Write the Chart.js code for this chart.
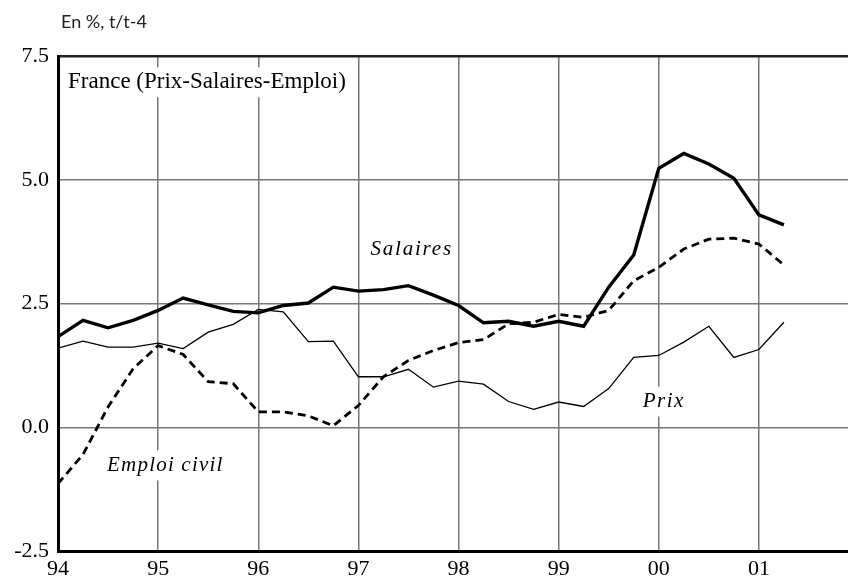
<!DOCTYPE html>
<html>
<head>
<meta charset="utf-8">
<script src="https://cdn.jsdelivr.net/npm/chart.js@4"></script>
<style>
  html, body { margin: 0; padding: 0; background: #fff; }
  #wrap { width: 848px; height: 578px; }
</style>
</head>
<body>
<div id="wrap"><canvas id="chart" width="848" height="578"></canvas></div>
<script>
// Quarterly data, 94T1 .. 01T2 (en %, glissement annuel)
const yearLabels = ['94', '95', '96', '97', '98', '99', '00', '01'];
const salaires = [1.83, 2.16, 2.01, 2.16, 2.36, 2.61, 2.47, 2.34, 2.31, 2.46, 2.51, 2.83, 2.75, 2.78, 2.86, 2.67,
                  2.46, 2.11, 2.14, 2.04, 2.14, 2.04, 2.83, 3.48, 5.23, 5.53, 5.32, 5.03, 4.29, 4.09];
const prix = [1.60, 1.74, 1.62, 1.62, 1.70, 1.59, 1.92, 2.08, 2.38, 2.33, 1.73, 1.74, 1.02, 1.02, 1.17, 0.81,
              0.93, 0.87, 0.52, 0.36, 0.51, 0.42, 0.78, 1.41, 1.45, 1.72, 2.04, 1.41, 1.57, 2.12];
const emploi = [-1.14, -0.55, 0.41, 1.18, 1.65, 1.47, 0.92, 0.88, 0.31, 0.31, 0.23, 0.03, 0.44, 1.02, 1.35, 1.55,
                1.71, 1.77, 2.09, 2.12, 2.28, 2.22, 2.36, 2.96, 3.23, 3.60, 3.80, 3.82, 3.70, 3.28];
const yTicks = [-2.5, 0.0, 2.5, 5.0, 7.5];

const serif = '"Liberation Serif", "Times New Roman", serif';

// turn a series into {x, y} points, x in years since 94
function toPoints(values) {
    return values.map((v, i) => ({ x: i / 4, y: v }));
}

// texts written inside the plot, anchored in data units
const plotTexts = [
    { text: 'France (Prix-Salaires-Emploi)', x: 0.1, y: 6.97, italic: false, size: 23, spacing: 0 },
    { text: 'Salaires', x: 3.12, y: 3.6, italic: true, size: 21, spacing: 1.8 },
    { text: 'Emploi civil', x: 0.49, y: -0.77, italic: true, size: 21, spacing: 1.2 },
    { text: 'Prix', x: 5.84, y: 0.52, italic: true, size: 21, spacing: 1.5 }
];

const textPlugin = {
    id: 'plotTexts',
    beforeDatasetsDraw(chart) {
        const ctx = chart.ctx;
        const xs = chart.scales.x, ys = chart.scales.y;
        ctx.save();
        ctx.textBaseline = 'middle';
        ctx.textAlign = 'left';
        plotTexts.forEach(t => {
            ctx.font = (t.italic ? 'italic ' : '') + t.size + 'px ' + serif;
            ctx.letterSpacing = t.spacing + 'px';
            const px = xs.getPixelForValue(t.x);
            const py = ys.getPixelForValue(t.y);
            const w = ctx.measureText(t.text).width;
            ctx.fillStyle = '#fff';
            ctx.fillRect(px - 3, py - 15, w + 6, 30);
            ctx.fillStyle = '#000';
            ctx.fillText(t.text, px, py);
        });
        ctx.restore();
    },
    afterDraw(chart) {
        const ctx = chart.ctx;
        ctx.save();
        ctx.font = '18px Lato, "Open Sans", sans-serif';
        ctx.fillStyle = '#222';
        ctx.textBaseline = 'middle';
        ctx.fillText('En %, t/t-4', chart.chartArea.left + 3, 22);
        ctx.restore();
    }
};

const ctx = document.getElementById('chart').getContext('2d');
const chart = new Chart(ctx, {
    type: 'line',
    data: {
        datasets: [
            {
                label: 'Salaires',
                data: toPoints(salaires),
                borderColor: '#000',
                borderWidth: 3.4,
                pointRadius: 0,
                tension: 0
            },
            {
                label: 'Prix',
                data: toPoints(prix),
                borderColor: '#000',
                borderWidth: 1.3,
                pointRadius: 0,
                tension: 0
            },
            {
                label: 'Emploi civil',
                data: toPoints(emploi),
                borderColor: '#000',
                borderWidth: 2.8,
                borderDash: [8, 5],
                pointRadius: 0,
                tension: 0
            }
        ]
    },
    options: {
        responsive: false,
        animation: false,
        devicePixelRatio: 1,
        layout: { padding: { top: 56, right: 0, left: 0, bottom: 0 } },
        plugins: {
            legend: { display: false },
            tooltip: { enabled: false }
        },
        scales: {
            x: {
                type: 'linear',
                min: 0,
                max: 7.89,
                afterBuildTicks: scale => {
                    scale.ticks = scale.ticks.filter(t => Number.isInteger(t.value));
                },
                afterFit: scale => { scale.height = 27; },
                ticks: {
                    stepSize: 1,
                    color: '#000',
                    padding: 5,
                    font: { family: serif, size: 22 },
                    callback: v => yearLabels[v]
                },
                grid: {
                    drawTicks: false,
                    lineWidth: 1.5,
                    color: c => c.tick && c.tick.value === 0 ? 'rgba(0,0,0,0)' : '#777'
                },
                border: { display: true, color: '#000', width: 3 }
            },
            y: {
                min: -2.5,
                max: 7.5,
                afterBuildTicks: scale => {
                    scale.ticks = yTicks.map(v => ({ value: v }));
                },
                afterFit: scale => { scale.width = 58; },
                ticks: {
                    color: '#000',
                    padding: 9,
                    font: { family: serif, size: 22 },
                    callback: v => v.toFixed(1)
                },
                grid: {
                    drawTicks: false,
                    lineWidth: c => c.tick && c.tick.value === 7.5 ? 2.5 : 1.5,
                    color: c => {
                        if (!c.tick) return '#777';
                        if (c.tick.value === -2.5) return 'rgba(0,0,0,0)';
                        if (c.tick.value === 7.5) return '#222';
                        return '#777';
                    }
                },
                border: { display: true, color: '#000', width: 3 }
            }
        }
    },
    plugins: [textPlugin]
});
</script>
</body>
</html>
